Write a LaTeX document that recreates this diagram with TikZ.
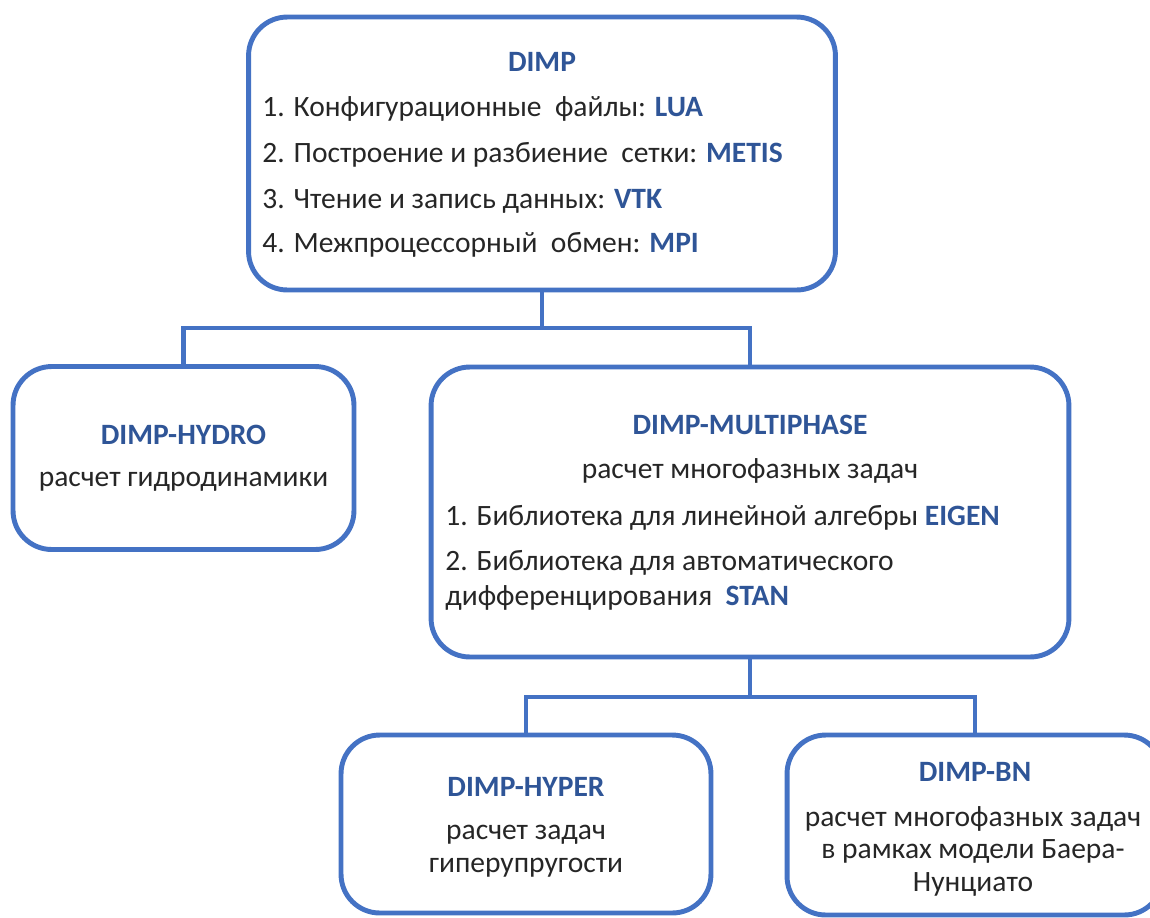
\documentclass[tikz,border=0pt]{standalone}
\usepackage{fontspec}
\setmainfont{Carlito}
\definecolor{boxblue}{HTML}{4472C4}
\definecolor{labelblue}{HTML}{2F5597}
\definecolor{txt}{HTML}{262626}
\tikzset{
  box/.style={draw=boxblue, line width=2.8pt, rounded corners=22pt, inner sep=0pt, fill=white},
  conn/.style={draw=boxblue, line width=2.8pt},
  ttl/.style={font=\fontsize{16.8}{19}\selectfont\bfseries, text=labelblue, inner sep=0pt},
  ln/.style={font=\fontsize{16.8}{19}\selectfont, text=txt, inner sep=0pt, anchor=west},
  cln/.style={font=\fontsize{16.8}{18.5}\selectfont, text=txt, inner sep=0pt},
}
\newcommand{\kw}[1]{\textbf{\textcolor{labelblue}{#1}}}
\begin{document}
\begin{tikzpicture}[x=0.02cm,y=-0.02cm]
\useasboundingbox (0,0) rectangle (1150,917);
\clip (0,0) rectangle (1150,917);
% boxes
\node[box, minimum width=11.74cm, minimum height=5.46cm] (top) at (542,153.5) {};
\node[box, minimum width=6.82cm, minimum height=3.66cm] (hydro) at (183.5,458) {};
\node[box, minimum width=12.76cm, minimum height=5.8cm] (multi) at (750,512) {};
\node[box, minimum width=7.4cm, minimum height=3.56cm] (hyper) at (526,824) {};
\node[box, minimum width=7.52cm, minimum height=3.6cm] (bn) at (975,825) {};
% connectors
\coordinate (j1) at (542,328);
\coordinate (j2) at (750,697);
\draw[conn] (top.south) -- (j1);
\draw[conn] (hydro.north) |- (j1) -| (multi.north);
\draw[conn] (multi.south) -- (j2);
\draw[conn] (hyper.north) |- (j2) -| (bn.north);
% top box text
\node[ttl] (t0) at (542,62) {DIMP};
\node[ln] (t1) at (262,109) {1. Конфигурационные\ \ файлы: \kw{LUA}};
\node[ln] (t2) at (262,155) {2. Построение и разбиение\ \ сетки: \kw{METIS}};
\node[ln] (t3) at (262,201) {3. Чтение и запись данных: \kw{VTK}};
\node[ln] (t4) at (262,245) {4. Межпроцессорный\ \ обмен: \kw{MPI}};
% hydro
\node[ttl] (h0) at (183.5,435) {DIMP-HYDRO};
\node[cln] (h1) at (183.5,482) {расчет гидродинамики};
% multiphase
\node[ttl] (m0) at (750,425) {DIMP-MULTIPHASE};
\node[cln] (m1) at (750,471) {расчет многофазных задач};
\node[ln] (m2) at (445,518) {1. Библиотека для линейной алгебры \kw{EIGEN}};
\node[ln] (m3) at (445,563) {2. Библиотека для автоматического};
\node[ln] (m4) at (445,598) {дифференцирования\ \ \kw{STAN}};
% hyper
\node[ttl] (y0) at (526,787) {DIMP-HYPER};
\node[cln, align=center] (y1) at (526,851) {расчет задач\\гиперупругости};
% bn
\node[ttl] (b0) at (975,772) {DIMP-BN};
\node[cln, align=center] (b1) at (973,851) {расчет многофазных задач\\в рамках модели Баера-\\Нунциато};
\end{tikzpicture}
\end{document}
